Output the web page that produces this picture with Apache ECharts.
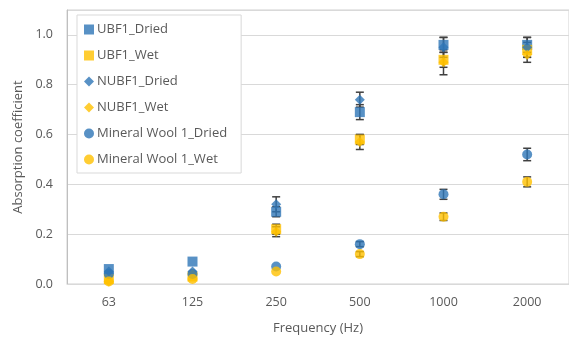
<!DOCTYPE html>
<html>
<head>
<meta charset="utf-8">
<script src="https://cdn.jsdelivr.net/npm/echarts@6/dist/echarts.min.js"></script>
<style>html,body{margin:0;padding:0;background:#fff;}#c{width:569px;height:340px;}</style>
</head>
<body>
<div id="c"></div>
<script>
const categories = ['63', '125', '250', '500', '1000', '2000'];
const yTicks = [0, 0.2, 0.4, 0.6, 0.8, 1.0];

const ubf1Dried = [0.06, 0.09, 0.29, 0.69, 0.96, 0.96];
const ubf1Wet = [0.02, 0.03, 0.22, 0.58, 0.90, 0.94];
const nubf1Dried = [0.05, 0.05, 0.32, 0.74, 0.95, 0.95];
const nubf1Wet = [0.01, 0.04, 0.21, 0.57, 0.89, 0.92];
const mwDried = [0.04, 0.04, 0.07, 0.16, 0.36, 0.52];
const mwWet = [0.01, 0.02, 0.05, 0.12, 0.27, 0.41];

const ubf1DriedErr = [0, 0, 0.02, 0.03, 0.03, 0.03];
const ubf1WetErr = [0, 0, 0.02, 0.02, 0.03, 0.03];
const nubf1DriedErr = [0, 0, 0.03, 0.03, 0.04, 0.04];
const nubf1WetErr = [0, 0, 0.02, 0.03, 0.05, 0.03];
const mwDriedErr = [0, 0, 0, 0.01, 0.02, 0.025];
const mwWetErr = [0, 0, 0, 0.01, 0.015, 0.02];

const BLUE = '#2E75B6';
const YELLOW = '#FFC000';
const TXT = '#595959';

const seriesDefs = [
  {name: 'UBF1_Dried', data: ubf1Dried, err: ubf1DriedErr, color: BLUE, symbol: 'rect', size: 10},
  {name: 'UBF1_Wet', data: ubf1Wet, err: ubf1WetErr, color: YELLOW, symbol: 'rect', size: 10},
  {name: 'NUBF1_Dried', data: nubf1Dried, err: nubf1DriedErr, color: BLUE, symbol: 'diamond', size: 10},
  {name: 'NUBF1_Wet', data: nubf1Wet, err: nubf1WetErr, color: YELLOW, symbol: 'diamond', size: 10},
  {name: 'Mineral Wool 1_Dried', data: mwDried, err: mwDriedErr, color: BLUE, symbol: 'circle', size: 10},
  {name: 'Mineral Wool 1_Wet', data: mwWet, err: mwWetErr, color: YELLOW, symbol: 'circle', size: 10}
];

const series = [];
seriesDefs.forEach(function (d, si) {
  const errData = d.data.map(function (v, i) { return [i, v, d.err[i]]; }).filter(function (r) { return r[2] > 0; });
  series.push({
    type: 'custom',
    name: d.name + '_err',
    z: 1,
    silent: true,
    data: errData,
    encode: {x: 0, y: 1},
    renderItem: function (params, api) {
      const x = api.value(0), v = api.value(1), e = api.value(2);
      const hi = api.coord([x, v + e]);
      const lo = api.coord([x, v - e]);
      const w = 4;
      const st = {stroke: '#404040', lineWidth: 1.5};
      return {
        type: 'group',
        children: [
          {type: 'line', shape: {x1: hi[0], y1: hi[1], x2: lo[0], y2: lo[1]}, style: st},
          {type: 'line', shape: {x1: hi[0] - w, y1: hi[1], x2: hi[0] + w, y2: hi[1]}, style: st},
          {type: 'line', shape: {x1: lo[0] - w, y1: lo[1], x2: lo[0] + w, y2: lo[1]}, style: st}
        ]
      };
    }
  });
  series.push({
    type: 'scatter',
    name: d.name,
    z: 2,
    symbol: d.symbol,
    symbolSize: d.size,
    itemStyle: {color: d.color},
    data: d.data
  });
});

const chart = echarts.init(document.getElementById('c'), null, {renderer: 'canvas'});
chart.setOption({
  animation: false,
  backgroundColor: '#fff',
  textStyle: {fontFamily: 'Open Sans, Liberation Sans, sans-serif'},
  grid: {left: 67, top: 10, right: -7, bottom: 55, show: true, borderColor: '#d0d0d0', borderWidth: 1},
  legend: {
    orient: 'vertical',
    left: 77,
    top: 15,
    itemWidth: 10,
    itemHeight: 10,
    itemGap: 13,
    padding: [8, 14, 7, 7],
    backgroundColor: '#fff',
    borderColor: '#d9d9d9',
    borderWidth: 1,
    textStyle: {color: TXT, fontSize: 13, fontFamily: 'Open Sans, sans-serif', padding: [0, 0, 0, -2]},
    data: seriesDefs.map(function (d) { return {name: d.name, icon: d.symbol}; })
  },
  xAxis: {
    type: 'category',
    data: categories,
    name: 'Frequency (Hz)',
    nameLocation: 'middle',
    nameGap: 38,
    nameTextStyle: {color: TXT, fontSize: 13},
    axisLine: {lineStyle: {color: '#d9d9d9'}},
    axisTick: {show: false},
    axisLabel: {color: TXT, fontSize: 12.5, margin: 12},
    splitLine: {show: false}
  },
  yAxis: {
    type: 'value',
    min: 0,
    max: 1.1,
    interval: 0.2,
    name: 'Absorption coefficient',
    nameLocation: 'middle',
    nameGap: 42,
    nameTextStyle: {color: TXT, fontSize: 13},
    axisLine: {show: true, lineStyle: {color: '#bfbfbf'}},
    axisTick: {show: false},
    axisLabel: {
      color: TXT, fontSize: 12.5, margin: 14, showMaxLabel: false,
      formatter: function (v) { return yTicks.some(function (t) { return Math.abs(t - v) < 1e-9; }) ? v.toFixed(1) : ''; }
    },
    splitLine: {lineStyle: {color: '#d9d9d9'}}
  },
  series: series
});
</script>
</body>
</html>
